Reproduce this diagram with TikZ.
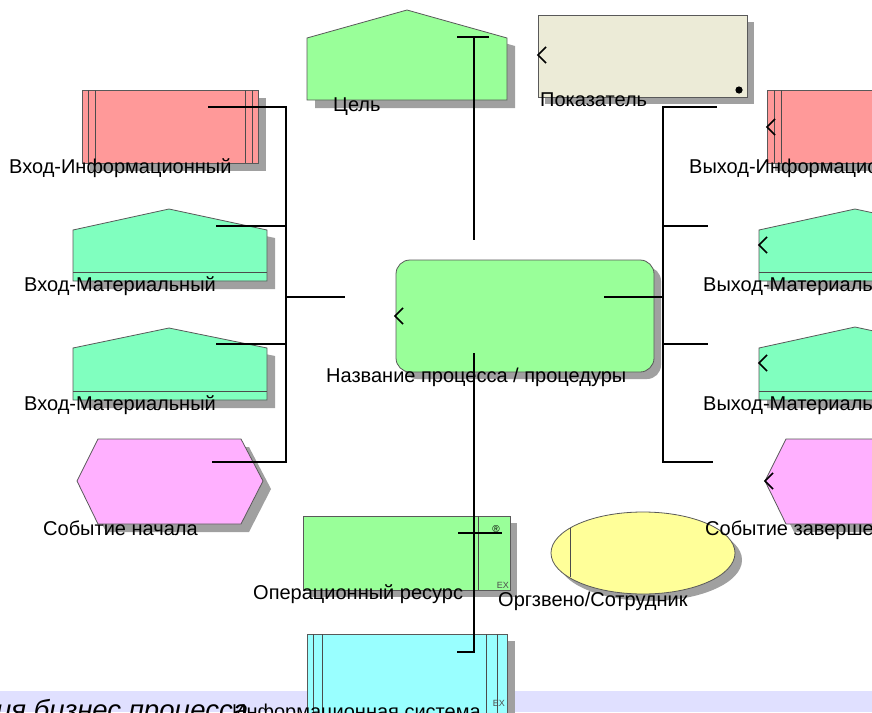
\documentclass[tikz,border=0pt]{standalone}
\usepackage{fontspec}
\setmainfont{Liberation Sans}
\definecolor{cgreen}{RGB}{153,255,153}
\definecolor{cbeige}{RGB}{236,235,215}
\definecolor{cpink}{RGB}{255,153,153}
\definecolor{cmint}{RGB}{128,255,191}
\definecolor{cviolet}{RGB}{255,176,255}
\definecolor{cyell}{RGB}{255,255,153}
\definecolor{ccyan}{RGB}{153,255,255}
\definecolor{cband}{RGB}{224,224,255}
\definecolor{cshad}{RGB}{160,160,160}
\begin{document}
\begin{tikzpicture}[x=1pt,y=-1pt,
  outl/.style={draw=black!65,line width=0.8pt},
  inln/.style={draw=black!70,line width=0.7pt},
  shad/.style={fill=cshad,draw=none},
  conn/.style={draw=black,line width=2.4pt},
  chev/.style={draw=black,line width=1.6pt},
  lbl/.style={anchor=base west,inner sep=0pt,font=\fontsize{20}{22}\selectfont},
  tiny/.style={inner sep=0pt,font=\fontsize{9}{10}\selectfont,text=black!70}]
\useasboundingbox (0,0) rectangle (872,712);
% bottom band
\fill[cband] (0,691) rectangle (872,712);
\node[anchor=base west,inner sep=0pt,font=\fontsize{27.5}{30}\selectfont\itshape] (title) at (-4,719) {ия бизнес процесса};

% ---- Цель
\fill[shad] (315,46) -- (415,18) -- (515,46) -- (515,108) -- (315,108) -- cycle;
\draw[outl,fill=cgreen] (307,38) -- (407,10) -- (507,38) -- (507,100) -- (307,100) -- cycle;
% ---- Показатель
\fill[shad] (545,22) rectangle (754,104);
\draw[outl,fill=cbeige] (538,15) rectangle (747,97);
\fill (739,90) circle (3.6);
\draw[chev] (546,47) -- (538,55) -- (546,63);

% ---- Left: Вход-Информационный
\fill[shad] (90,98) rectangle (266,171);
\draw[outl,fill=cpink] (82,90) rectangle (258,163);
\foreach \x in {88,95,245,252} \draw[inln] (\x,90) -- (\x,163);
% Вход-Материальный 1
\fill[shad] (81,238) -- (177,217) -- (275,238) -- (275,289) -- (81,289) -- cycle;
\draw[outl,fill=cmint] (73,230) -- (169,209) -- (267,230) -- (267,281) -- (73,281) -- cycle;
\draw[inln] (73,272) -- (267,272);
% Вход-Материальный 2
\fill[shad] (81,356) -- (177,336) -- (275,356) -- (275,408) -- (81,408) -- cycle;
\draw[outl,fill=cmint] (73,348) -- (169,328) -- (267,348) -- (267,400) -- (73,400) -- cycle;
\draw[inln] (73,391) -- (267,391);
% Событие начала
\fill[shad] (106,447) -- (249,447) -- (271,489) -- (249,532) -- (106,532) -- (85,489) -- cycle;
\draw[outl,fill=cviolet] (98,439) -- (241,439) -- (263,481) -- (241,524) -- (98,524) -- (77,481) -- cycle;

% ---- Right: Выход-Информационный
\fill[shad] (775,98) rectangle (951,171);
\draw[outl,fill=cpink] (767,90) rectangle (943,163);
\foreach \x in {774,781} \draw[inln] (\x,90) -- (\x,163);
\draw[chev] (775,119) -- (767,127) -- (775,135);
% Выход-Материальный 1
\fill[shad] (767,238) -- (863,217) -- (961,238) -- (961,289) -- (767,289) -- cycle;
\draw[outl,fill=cmint] (759,230) -- (855,209) -- (953,230) -- (953,281) -- (759,281) -- cycle;
\draw[inln] (759,272) -- (953,272);
\draw[chev] (767,237) -- (759,245) -- (767,253);
% Выход-Материальный 2
\fill[shad] (767,356) -- (863,335) -- (961,356) -- (961,408) -- (767,408) -- cycle;
\draw[outl,fill=cmint] (759,348) -- (855,327) -- (953,348) -- (953,400) -- (759,400) -- cycle;
\draw[inln] (759,391) -- (953,391);
\draw[chev] (767,355) -- (759,363) -- (767,371);
% Событие завершения
\fill[shad] (794,447) -- (937,447) -- (959,489) -- (937,532) -- (794,532) -- (773,489) -- cycle;
\draw[outl,fill=cviolet] (786,439) -- (929,439) -- (951,481) -- (929,524) -- (786,524) -- (765,481) -- cycle;
\draw[chev] (773,473) -- (765,481) -- (773,489);

% ---- Process
\fill[shad,rounded corners=14pt] (403,267) rectangle (661,379);
\draw[outl,fill=cgreen,rounded corners=14pt] (396,260) rectangle (654,372);
\draw[chev] (403,308) -- (395,316) -- (403,324);

% ---- Операционный ресурс
\fill[shad] (310,523) rectangle (517,597);
\draw[outl,fill=cgreen] (303,516) rectangle (510,590);
\draw[inln] (478,516) -- (478,590);
\node[tiny,font=\fontsize{10}{10}\selectfont,text=black] (reg) at (496,529) {®};
\node[tiny,anchor=south east] (ex1) at (509,589) {EX};

% ---- Оргзвено/Сотрудник
\fill[shad] (650,560) ellipse (92 and 41);
\draw[outl,fill=cyell] (643,553) ellipse (92 and 41);
\draw[inln] (570,528) -- (570,577);

% ---- Информационная система
\fill[shad] (314,641) rectangle (515,720);
\draw[outl,fill=ccyan] (307,634) rectangle (507,720);
\foreach \x in {313,322,486,497} \draw[inln] (\x,634) -- (\x,720);
\node[tiny,anchor=south east] (ex2) at (505,707) {EX};

% ---- connector points
\coordinate (gL) at (457,37); \coordinate (gR) at (489,37); \coordinate (gJ) at (474,37);
\coordinate (pTop) at (474,240);
\coordinate (kE) at (717,107); \coordinate (rTop) at (663,107); \coordinate (rBot) at (663,462);
\coordinate (zE) at (713,462);
\coordinate (rb1) at (663,226); \coordinate (rb1e) at (708,226);
\coordinate (rb3) at (663,344); \coordinate (rb3e) at (708,344);
\coordinate (pR) at (604,297); \coordinate (rMid) at (663,297);
\coordinate (iE) at (208,107); \coordinate (lTop) at (286,107); \coordinate (lBot) at (286,462);
\coordinate (sE) at (212,462);
\coordinate (m1E) at (216,226); \coordinate (lb1) at (286,226);
\coordinate (m2E) at (216,344); \coordinate (lb3) at (286,344);
\coordinate (lMid) at (286,297); \coordinate (lMidE) at (345,297);
\coordinate (pB) at (474,353); \coordinate (bJ) at (474,652); \coordinate (isE) at (457,652);
\coordinate (oL) at (458,533); \coordinate (oR) at (502,533);

\draw[conn] (gL) -- (gR);
\draw[conn] (gJ) -- (pTop);
\draw[conn] (kE) -- (rTop) -- (rBot) -- (zE);
\draw[conn] (rb1) -- (rb1e);
\draw[conn] (rb3) -- (rb3e);
\draw[conn] (pR) -- (rMid);
\draw[conn] (iE) -- (lTop) -- (lBot) -- (sE);
\draw[conn] (m1E) -- (lb1);
\draw[conn] (m2E) -- (lb3);
\draw[conn] (lMid) -- (lMidE);
\draw[conn] (pB) -- (bJ) -- (isE);
\draw[conn] (oL) -- (oR);

% ---- labels
\node[lbl] (tGoal) at (333,111) {Цель};
\node[lbl] (tKpi) at (540,106) {Показатель};
\node[lbl] (tInI) at (9,173) {Вход-Информационный};
\node[lbl] (tInM1) at (24,291) {Вход-Материальный};
\node[lbl] (tInM2) at (24,410) {Вход-Материальный};
\node[lbl] (tStart) at (43,535) {Событие начала};
\node[lbl] (tOutI) at (689,173) {Выход-Информационный};
\node[lbl] (tOutM1) at (703,291) {Выход-Материальный};
\node[lbl] (tOutM2) at (703,410) {Выход-Материальный};
\node[lbl] (tEnd) at (705,535) {Событие завершения};
\node[lbl] (tProc) at (326,382) {Название процесса / процедуры};
\node[lbl] (tOp) at (253,599) {Операционный ресурс};
\node[lbl] (tOrg) at (498,606) {Оргзвено/Сотрудник};
\node[lbl] (tIS) at (232,718) {Информационная система};
\end{tikzpicture}
\end{document}
